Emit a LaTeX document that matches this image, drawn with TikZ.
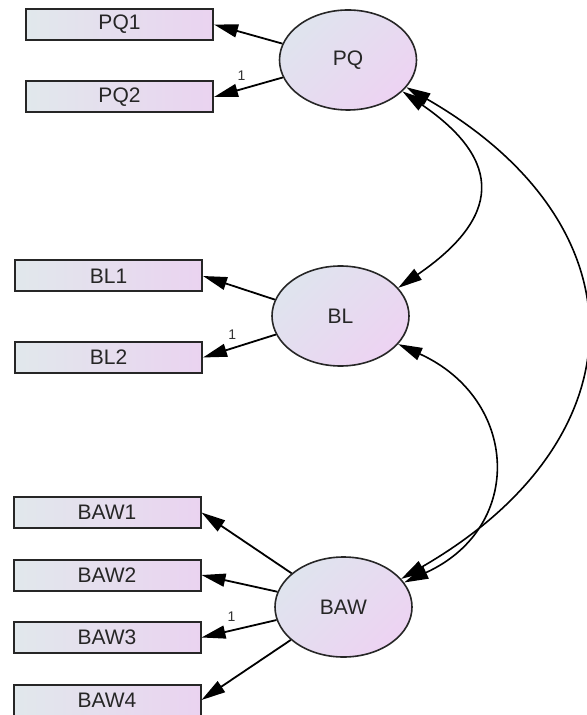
\documentclass[tikz,border=0pt]{standalone}
\usepackage{fontspec}
\setmainfont{Liberation Sans}
\usetikzlibrary{arrows.meta,shapes.geometric}
\definecolor{obsleft}{HTML}{E1E8EC}
\definecolor{obsright}{HTML}{EAD3F0}
\definecolor{latleft}{HTML}{DFE4EE}
\definecolor{latright}{HTML}{EDD3F2}
\tikzset{
  obs/.style={draw=black!85, line width=1pt, left color=obsleft,
              right color=obsright, minimum width=93.5pt, minimum height=15.5pt,
              inner sep=0pt, font=\fontsize{10.5}{12}\selectfont, text=black!85},
  lat/.style={ellipse, draw=black!85, line width=0.8pt, top color=latleft,
              bottom color=latright, shading angle=45, minimum width=68.5pt,
              minimum height=50pt, inner sep=0pt,
              font=\fontsize{10.5}{12}\selectfont, text=black!85},
  load/.style={-{Triangle[length=12pt,width=6.5pt]}, line width=0.9pt},
  cov/.style={{Triangle[length=12pt,width=6.5pt]}-{Triangle[length=12pt,width=6.5pt]},
              line width=0.8pt},
  fixed/.style={font=\fontsize{7}{8}\selectfont, inner sep=1pt, text=black!80},
}

\begin{document}
\begin{tikzpicture}[x=0.5pt, y=-0.5pt]
\useasboundingbox (0,0) rectangle (586,715);

% latent factors
\node[lat] (pq) at (348, 60) {PQ};
\node[lat] (bl) at (340.5, 316) {BL};
\node[lat] (baw) at (343.5, 607) {BAW};

% indicators
\foreach \i/\y in {1/24.5, 2/97} {
    \node[obs] (pq\i) at (119.5, \y) {PQ\i};
}
\foreach \i/\y in {1/276, 2/357.5} {
    \node[obs] (bl\i) at (108.5, \y) {BL\i};
}
\foreach \i/\y in {1/512.5, 2/575, 3/637.5, 4/700} {
    \node[obs] (baw\i) at (107, \y) {BAW\i};
}

% loadings
\draw[load] (pq.166) -- (pq1.east);
\draw[load] (pq.195) -- node[fixed, pos=.6, above=3pt] {1} (pq2.east);
\draw[load] (bl.166) -- (bl1.east);
\draw[load] (bl.196) -- node[fixed, pos=.6, above=3pt] {1} (bl2.east);
\draw[load] (baw.147) -- (baw1.east);
\draw[load] (baw.167) -- (baw2.east);
\draw[load] (baw.191) -- node[fixed, pos=.6, above=3pt] {1} (baw3.east);
\draw[load] (baw.212) -- (baw4.east);

% covariances
\draw[cov] (pq.-30) .. controls +(102,70) and +(102,-70) .. (bl.26);
\draw[cov] (bl.-26) .. controls +(121,55) and +(121,-55) .. (baw.22);
\draw[cov] (pq.-25) .. controls +(241,139) and +(241,-139) .. (baw.26);

\end{tikzpicture}
\end{document}
